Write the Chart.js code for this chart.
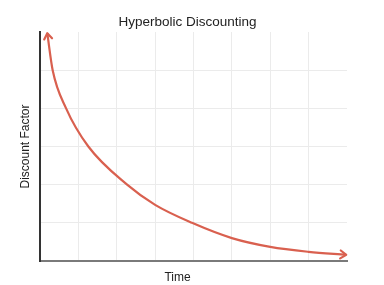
<!DOCTYPE html>
<html>
<head>
<meta charset="utf-8">
<script src="https://cdn.jsdelivr.net/npm/chart.js@4.4.1/dist/chart.umd.min.js"></script>
<style>
  html, body { margin: 0; padding: 0; background: #fff; }
  #wrap { width: 384px; height: 285px; }
</style>
</head>
<body>
<div id="wrap"><canvas id="discount-chart"></canvas></div>
<script>
const chartTitle = 'Hyperbolic Discounting';
const xTitle = 'Time';
const yTitle = 'Discount Factor';

// curve (x in grid units 0..8, y in grid units 0..6)
const timeValues = [0.19, 0.33, 0.68, 1.26, 2.27, 3.0, 3.96, 5.0, 6.0, 7.0, 7.98];
const discountValues = [5.97, 5.0, 4.0, 3.0, 2.0, 1.47, 1.0, 0.60, 0.37, 0.24, 0.16];

const xMax = 8;
const yMax = 6;

const curveColor = '#d9604f';
const gridColor = '#ebebeb';
const font = '"Liberation Sans", Arial, sans-serif';

function arrowHead(ctx, tip, from, size) {
    const ang = Math.atan2(tip.y - from.y, tip.x - from.x);
    ctx.beginPath();
    ctx.moveTo(tip.x - size * Math.cos(ang - 0.6), tip.y - size * Math.sin(ang - 0.6));
    ctx.lineTo(tip.x, tip.y);
    ctx.lineTo(tip.x - size * Math.cos(ang + 0.6), tip.y - size * Math.sin(ang + 0.6));
    ctx.stroke();
}

const arrows = {
    id: 'arrows',
    afterDatasetsDraw(chart) {
        const pts = chart.getDatasetMeta(0).data;
        const ctx = chart.ctx;
        ctx.save();
        ctx.strokeStyle = curveColor;
        ctx.lineWidth = 2.2;
        ctx.lineCap = 'round';
        ctx.lineJoin = 'round';
        arrowHead(ctx, pts[0], pts[1], 7);
        arrowHead(ctx, pts[pts.length - 1], pts[pts.length - 2], 7);
        ctx.restore();
    }
};

const captions = {
    id: 'captions',
    afterDraw(chart) {
        const ctx = chart.ctx;
        const area = chart.chartArea;
        ctx.save();
        ctx.fillStyle = '#222';
        ctx.textAlign = 'center';
        ctx.textBaseline = 'alphabetic';
        ctx.font = '13.5px ' + font;
        ctx.fillText(chartTitle, (area.left + area.right) / 2 - 6, area.top - 6);
        ctx.font = '12px ' + font;
        ctx.fillText(xTitle, (area.left + area.right) / 2 - 16, area.bottom + 20);
        ctx.restore();
    }
};

new Chart(document.getElementById('discount-chart'), {
    type: 'line',
    data: {
        datasets: [{
            data: timeValues.map((t, i) => ({ x: t, y: discountValues[i] })),
            borderColor: curveColor,
            borderWidth: 2.2,
            pointRadius: 0,
            cubicInterpolationMode: 'monotone',
            fill: false
        }]
    },
    options: {
        responsive: true,
        maintainAspectRatio: false,
        animation: false,
        layout: { padding: { top: 32, right: 37, bottom: 24, left: 14 } },
        plugins: {
            legend: { display: false },
            tooltip: { enabled: false }
        },
        scales: {
            x: {
                type: 'linear',
                min: 0,
                max: xMax,
                ticks: { display: false, stepSize: 1 },
                grid: {
                    drawTicks: false,
                    color: c => c.tick && c.tick.value === xMax ? 'rgba(0,0,0,0)' : gridColor
                },
                border: { color: '#7a7a7a', width: 2 }
            },
            y: {
                min: 0,
                max: yMax,
                ticks: { display: false, stepSize: 1 },
                grid: {
                    drawTicks: false,
                    color: c => c.tick && c.tick.value === yMax ? 'rgba(0,0,0,0)' : gridColor
                },
                border: { color: '#333', width: 2 },
                title: {
                    display: true,
                    text: yTitle,
                    color: '#222',
                    font: { family: font, size: 12 },
                    padding: { top: 4, bottom: 7.6 }
                }
            }
        }
    },
    plugins: [arrows, captions]
});
</script>
</body>
</html>
